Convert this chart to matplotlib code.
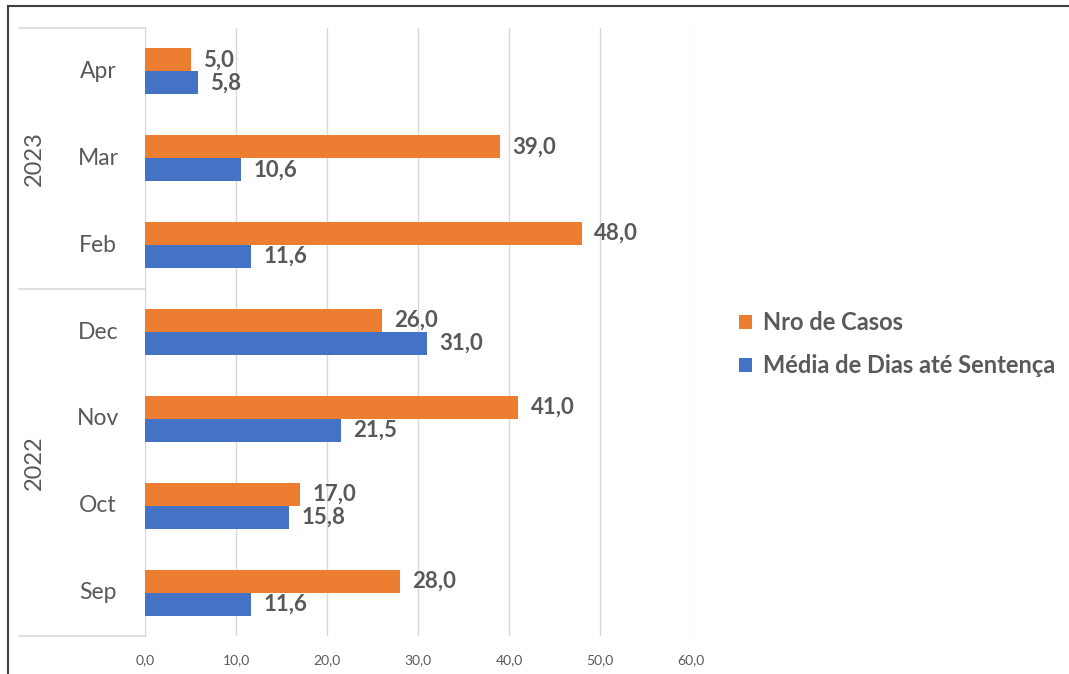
import matplotlib
matplotlib.use("Agg")
from matplotlib import pyplot as plt
from matplotlib.patches import Rectangle
import numpy as np

# data, bottom to top as drawn
months = ["Sep", "Oct", "Nov", "Dec", "Feb", "Mar", "Apr"]
years = ["2022", "2023"]
year_spans = [(0, 3), (4, 6)]  # month index ranges per year
nro_casos = [28.0, 17.0, 41.0, 26.0, 48.0, 39.0, 5.0]
media_dias = [11.6, 15.8, 21.5, 31.0, 11.6, 10.6, 5.8]
series_names = ["Nro de Casos", "Média de Dias até Sentença"]
xticks = [0, 10, 20, 30, 40, 50, 60]

ORANGE = "#ED7D31"
BLUE = "#4472C4"
GRAY = "#595959"
GRID = "#D9D9D9"

plt.rcParams['font.family'] = ['Lato', 'DejaVu Sans']

fig = plt.figure(figsize=(10.69, 6.74), dpi=100)
ax = fig.add_axes([145 / 1069, 1 - 636 / 674, 546 / 1069, 608 / 674])

y = np.arange(len(months))
h = 0.265
b1 = ax.barh(y + h / 2, nro_casos, height=h, color=ORANGE, label=series_names[0], zorder=3)
b2 = ax.barh(y - h / 2, media_dias, height=h, color=BLUE, label=series_names[1], zorder=3)

# data labels
for bars, vals in ((b1, nro_casos), (b2, media_dias)):
    for bar, v in zip(bars, vals):
        ax.annotate(f"{v:.1f}".replace(".", ","),
                    (bar.get_width(), bar.get_y() + bar.get_height() / 2),
                    xytext=(9, 0), textcoords="offset points",
                    ha="left", va="center", fontsize=16, fontweight="bold", color=GRAY)

ax.set_xlim(0, 60)
ax.set_ylim(-0.5, len(months) - 0.5)
ax.set_xticks(xticks)
ax.set_xticklabels([f"{t:.1f}".replace(".", ",") for t in xticks], fontsize=10, color=GRAY)
ax.tick_params(axis="x", length=0, pad=13)
ax.set_yticks([])
ax.grid(axis="x", color=GRID, linewidth=1, zorder=0)
for s in ("top", "right", "bottom"):
    ax.spines[s].set_visible(False)
ax.spines["left"].set_color(GRID)

# multi-level category axis
ytr = ax.get_yaxis_transform()
for i, m in enumerate(months):
    ax.text(-0.086, i, m, transform=ytr, ha="center", va="center", fontsize=16.5, color=GRAY)
for yr, (lo, hi) in zip(years, year_spans):
    ax.text(-0.203, (lo + hi) / 2, yr, transform=ytr, ha="center", va="center",
            rotation=90, fontsize=17, color=GRAY)
for yb in (-0.5, 3.5, 6.5):
    ax.plot([-0.231, 0], [yb, yb], transform=ytr, color=GRID, linewidth=1.2, clip_on=False)

fig.legend(handles=[b1, b2], loc="center left", bbox_to_anchor=(718 / 1069, 1 - 344 / 674),
           frameon=False, handlelength=0.55, handleheight=0.55, handletextpad=0.45,
           labelspacing=0.85, prop={"size": 17, "weight": "bold"}, labelcolor=GRAY)

# outer frame
fig.patches.append(Rectangle((8 / 1069, -0.1), 1.2, 1.1 - 6 / 674, transform=fig.transFigure,
                             fill=False, edgecolor="#404040", linewidth=1.5))

fig.savefig("out.png", dpi=100)
